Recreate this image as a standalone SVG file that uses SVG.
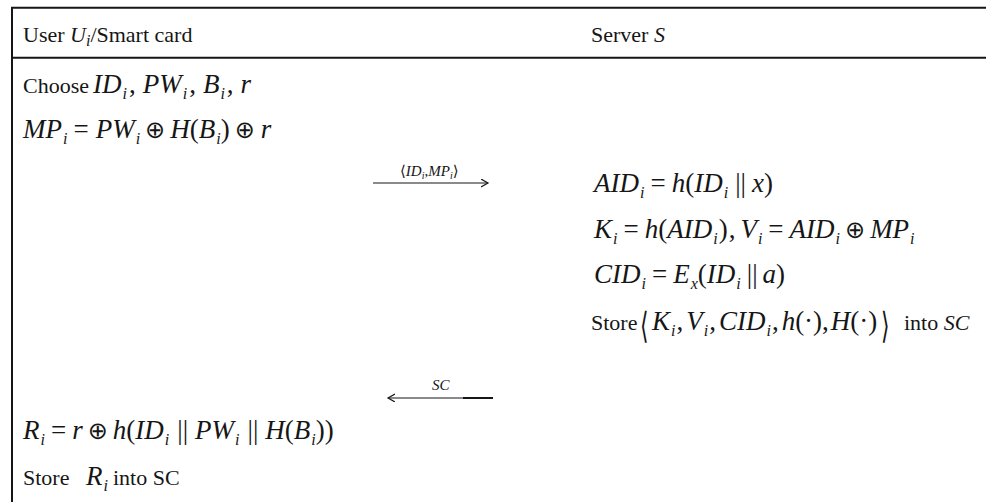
<svg xmlns="http://www.w3.org/2000/svg" width="986" height="502" viewBox="0 0 986 502">
  <style>
    text { font-family: "Liberation Serif", "DejaVu Serif", serif; fill: #161616; }
    .rm { font-size: 22px; }
    .m { font-size: 27px; font-style: italic; }
    .u { font-style: normal; }
    .s { font-size: 16px; font-style: italic; }
    .op { font-family: "DejaVu Sans", sans-serif; font-style: normal; font-size: 24px; }
    .br { font-family: "DejaVu Sans", sans-serif; font-style: normal; font-weight: 200; font-size: 26px; }
    .lbl { font-size: 15px; font-style: italic; }
    .lbr { font-family: "DejaVu Sans", sans-serif; font-style: normal; font-size: 15px; }
    .ls { font-size: 10px; font-style: italic; }
    .rule { stroke: #161616; stroke-width: 2; fill: none; }
    .conn { stroke: #161616; stroke-width: 1.2; fill: none; }
  </style>
  <defs>
    <marker id="head" markerWidth="10" markerHeight="10" refX="7" refY="4" orient="auto" markerUnits="userSpaceOnUse">
      <path d="M0,0 L7,4 L0,8" fill="none" stroke="#161616" stroke-width="1.2"/>
    </marker>
  </defs>

  <!-- table rules -->
  <g id="table">
    <path class="rule" d="M11,7.7 H986 M11,57.8 H986 M12,6.7 V502"/>
  </g>

  <!-- column headings -->
  <g id="header">
    <text class="rm" x="23" y="42">User <tspan font-style="italic">U</tspan><tspan class="s" font-size="13" dy="4">i</tspan><tspan dy="-4">/Smart card</tspan></text>
    <text class="rm" x="591" y="42">Server <tspan font-style="italic">S</tspan></text>
  </g>

  <!-- user side: registration request -->
  <g id="user-request">
    <text class="rm" x="23" y="93">Choose<tspan class="m" x="93">ID</tspan><tspan class="s" dy="6" dx="1">i</tspan><tspan class="m u" dy="-6" dx="2">,</tspan><tspan class="m" dx="7">PW</tspan><tspan class="s" dy="6" dx="1">i</tspan><tspan class="m u" dy="-6" dx="2">,</tspan><tspan class="m" dx="7">B</tspan><tspan class="s" dy="6" dx="1">i</tspan><tspan class="m u" dy="-6" dx="2">,</tspan><tspan class="m" dx="7">r</tspan></text>
    <text class="m" x="23" y="138">MP<tspan class="s" dy="6" dx="1">i</tspan><tspan class="u" dy="-6" dx="6">=</tspan><tspan dx="7">PW</tspan><tspan class="s" dy="6" dx="1">i</tspan><tspan class="op" dy="-6" dx="5">⊕</tspan><tspan dx="5">H</tspan><tspan class="u">(</tspan>B<tspan class="s" dy="6" dx="1">i</tspan><tspan class="u" dy="-6">)</tspan><tspan class="op" dx="5">⊕</tspan><tspan dx="6">r</tspan></text>
  </g>

  <!-- server side: card issuing -->
  <g id="server-issue">
    <text class="m" x="594" y="192">AID<tspan class="s" dy="6" dx="1">i</tspan><tspan class="u" dy="-6" dx="6">=</tspan><tspan dx="6">h</tspan><tspan class="u">(</tspan>ID<tspan class="s" dy="6" dx="1">i</tspan><tspan class="u" dy="-6" dx="7">||</tspan><tspan dx="6">x</tspan><tspan class="u">)</tspan></text>
    <text class="m" x="594" y="238">K<tspan class="s" dy="6" dx="1">i</tspan><tspan class="u" dy="-6" dx="6">=</tspan><tspan dx="6">h</tspan><tspan class="u">(</tspan>AID<tspan class="s" dy="6" dx="1">i</tspan><tspan class="u" dy="-6" dx="1">)</tspan><tspan class="u" dx="1">,</tspan><tspan dx="5">V</tspan><tspan class="s" dy="6" dx="1">i</tspan><tspan class="u" dy="-6" dx="6">=</tspan><tspan dx="6">AID</tspan><tspan class="s" dy="6" dx="1">i</tspan><tspan class="op" dy="-6" dx="5">⊕</tspan><tspan dx="5">MP</tspan><tspan class="s" dy="6" dx="1">i</tspan></text>
    <text class="m" x="594" y="283">CID<tspan class="s" dy="6" dx="1">i</tspan><tspan class="u" dy="-6" dx="6">=</tspan><tspan dx="6">E</tspan><tspan class="s" dy="6" dx="1">x</tspan><tspan class="u" dy="-6">(</tspan>ID<tspan class="s" dy="6" dx="1">i</tspan><tspan class="u" dy="-6" dx="6">||</tspan><tspan dx="5">a</tspan><tspan class="u">)</tspan></text>
    <text class="rm" x="591" y="330">Store<tspan class="m" x="652">K</tspan><tspan class="s" dy="6" dx="1">i</tspan><tspan class="m u" dy="-6" dx="1">,</tspan><tspan class="m" dx="3">V</tspan><tspan class="s" dy="6" dx="1">i</tspan><tspan class="m u" dy="-6" dx="1">,</tspan><tspan class="m" dx="3">CID</tspan><tspan class="s" dy="6" dx="1">i</tspan><tspan class="m u" dy="-6" dx="1">,</tspan><tspan class="m" dx="3">h</tspan><tspan class="m u">(·),</tspan><tspan class="m" dx="2">H</tspan><tspan class="m u">(·)</tspan><tspan x="904">into </tspan><tspan font-style="italic">SC</tspan></text>
    <text class="br" transform="translate(640,338) scale(0.85,1.4)">⟨</text>
    <text class="br" transform="translate(881,338) scale(0.85,1.4)">⟩</text>
  </g>

  <!-- user side: finishing the card -->
  <g id="user-store">
    <text class="m" x="23" y="439">R<tspan class="s" dy="6" dx="1">i</tspan><tspan class="u" dy="-6" dx="6">=</tspan><tspan dx="6">r</tspan><tspan class="op" dx="5">⊕</tspan><tspan dx="5">h</tspan><tspan class="u">(</tspan>ID<tspan class="s" dy="6" dx="1">i</tspan><tspan class="u" dy="-6" dx="8">||</tspan><tspan dx="7">PW</tspan><tspan class="s" dy="6" dx="1">i</tspan><tspan class="u" dy="-6" dx="8">||</tspan><tspan dx="7">H</tspan><tspan class="u">(</tspan>B<tspan class="s" dy="6" dx="1">i</tspan><tspan class="u" dy="-6">))</tspan></text>
    <text class="rm" x="23" y="485">Store<tspan class="m" x="86">R</tspan><tspan class="s" dy="6" dx="1">i</tspan><tspan dy="-6" x="113">into SC</tspan></text>
  </g>

  <!-- messages between user and server -->
  <g id="connectors">
    <path class="conn" d="M373,183 H488" marker-end="url(#head)"/>
    <text class="lbl" x="400" y="176"><tspan class="lbr">⟨</tspan>ID<tspan class="ls" dy="3">i</tspan><tspan class="u" dy="-3">,</tspan>MP<tspan class="ls" dy="3">i</tspan><tspan class="lbr" dy="-3">⟩</tspan></text>
    <path class="conn" d="M493,398 H388" marker-end="url(#head)"/>
    <path class="rule" d="M463,398 H493"/>
    <text class="lbl" x="432" y="390">SC</text>
  </g>
</svg>
